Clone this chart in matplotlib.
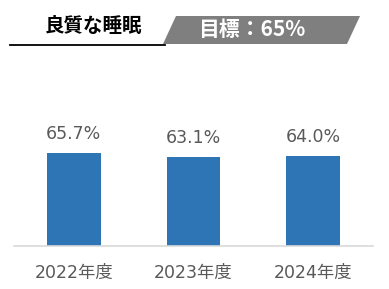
import matplotlib.pyplot as plt
from matplotlib.patches import Polygon

# data
years = ['2022年度', '2023年度', '2024年度']
values = [65.7, 63.1, 64.0]
value_labels = ['65.7%', '63.1%', '64.0%']
title = '良質な睡眠'
target = '目標：65%'

plt.rcParams['font.family'] = ['DejaVu Sans', 'Noto Sans CJK JP']
W, H = 389, 289
fig = plt.figure(figsize=(W / 100, H / 100), dpi=100)

# bar chart area
ax = fig.add_axes([14 / W, (H - 246) / H, 359 / W, 113 / H])
x = range(len(years))
ax.bar(x, values, width=0.45, color='#2E75B6')
for i, v in enumerate(values):
    ax.text(i, v + 7, value_labels[i], ha='center', va='bottom',
            fontsize=12.5, color='#595959')
ax.set_xlim(-0.5, 2.5)
ax.set_ylim(0, 80)
ax.set_xticks(list(x))
ax.set_xticklabels(years, color='#595959', fontsize=12.5,
                   family=['DejaVu Sans', 'Noto Sans CJK JP'])
ax.tick_params(axis='x', length=0, pad=13)
ax.set_yticks([])
for s in ['top', 'right', 'left']:
    ax.spines[s].set_visible(False)
ax.spines['bottom'].set_color('#d9d9d9')
ax.spines['bottom'].set_linewidth(1.2)

# header decoration
hx = fig.add_axes([0, 0, 1, 1], zorder=-1)
hx.set_xlim(0, W)
hx.set_ylim(H, 0)
hx.axis('off')
hx.add_patch(Polygon([(163, 44), (176, 16), (360, 16), (347, 44)],
                     closed=True, color='#7f7f7f', lw=0))
hx.plot([10, 165], [44.5, 44.5], color='black', lw=1.3)
hx.text(93, 27, title, ha='center', va='center', fontsize=14,
        fontweight='bold', family='Noto Sans CJK JP', color='black')
hx.text(252, 30, target, ha='center', va='center', fontsize=15,
        fontweight='bold', family='Noto Sans CJK JP', color='white')

fig.savefig('out.png', dpi=100)
